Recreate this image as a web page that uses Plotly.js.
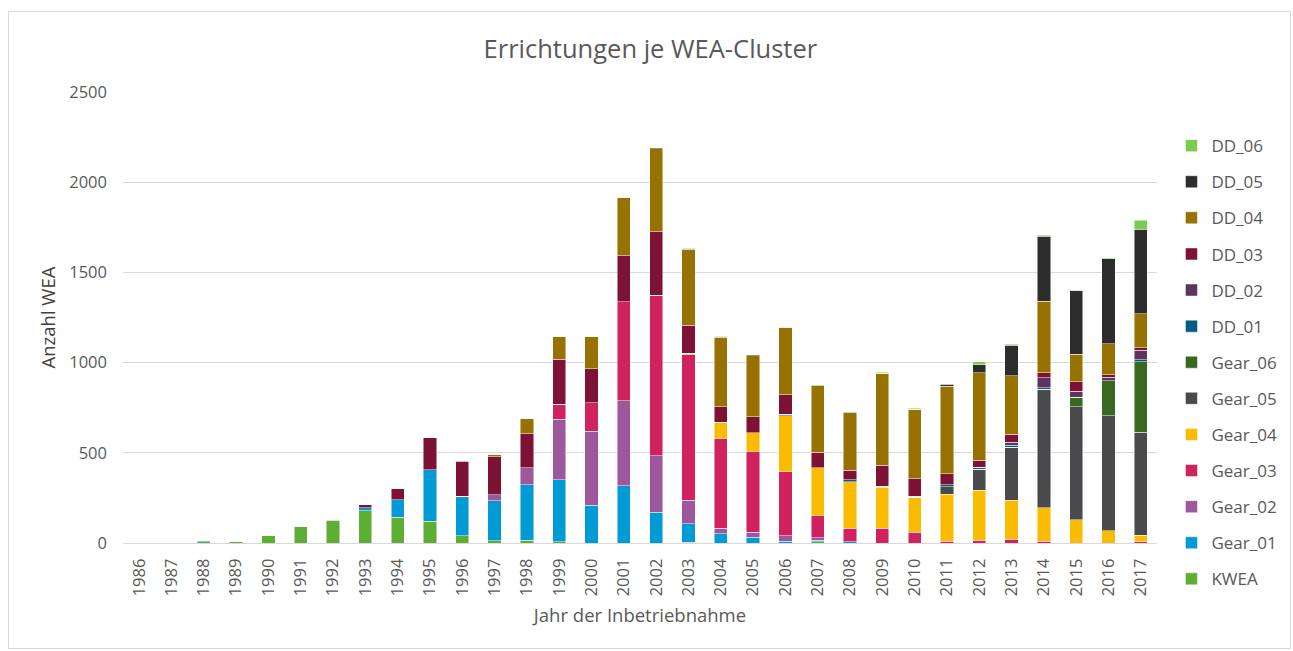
<!DOCTYPE html>
<html>
<head>
<meta charset="utf-8">
<script src="https://cdn.plot.ly/plotly-3.0.1.min.js"></script>
<style>
html,body{margin:0;padding:0;background:#fff;}
#wrap{position:relative;width:1293px;height:651px;}
#chart{width:1293px;height:651px;}
#frame{position:absolute;left:8px;top:11px;width:1281px;height:636px;border:1px solid #d9d9d9;pointer-events:none;}
</style>
</head>
<body>
<div id="wrap"><div id="chart"></div><div id="frame"></div></div>
<script>
const years = ['1986','1987','1988','1989','1990','1991','1992','1993','1994','1995','1996','1997','1998','1999','2000','2001','2002','2003','2004','2005','2006','2007','2008','2009','2010','2011','2012','2013','2014','2015','2016','2017'];

const KWEA    = [0,0,8,7,40,92,125,178,144,120,41,13,15,6,0,0,0,4,0,0,0,7,0,0,0,0,0,0,0,0,0,0];
const Gear_01 = [0,0,5,0,0,0,8,18,96,285,218,222,307,346,209,317,170,102,52,31,9,9,7,0,0,0,0,0,0,0,0,0];
const Gear_02 = [0,0,0,0,0,0,0,0,0,0,0,33,96,335,411,472,313,131,31,30,30,13,0,0,0,0,0,0,0,0,0,0];
const Gear_03 = [0,0,0,0,0,0,0,0,0,0,0,0,0,83,157,548,889,807,496,444,357,122,76,83,59,9,15,22,9,0,0,6];
const Gear_04 = [0,0,0,0,0,0,0,0,0,0,0,0,0,0,0,0,0,7,89,107,309,267,257,226,194,261,278,215,187,130,67,37];
const Gear_05 = [0,0,0,0,0,0,0,0,0,0,0,0,0,0,0,0,0,0,0,0,0,0,0,5,0,41,115,293,656,626,639,570];
const Gear_06 = [0,0,0,0,0,0,0,0,0,0,0,0,0,0,0,0,0,0,0,0,0,0,0,0,0,0,0,0,0,52,193,393];
const DD_01   = [0,0,0,0,0,0,0,0,0,0,0,0,0,0,0,0,0,0,0,0,9,0,11,0,7,13,11,13,9,0,0,9];
const DD_02   = [0,0,0,0,0,0,0,0,0,0,0,0,0,0,0,0,0,0,0,0,0,0,0,0,0,0,0,15,54,33,19,54];
const DD_03   = [0,0,0,0,0,0,0,15,63,178,193,211,187,248,189,256,352,157,87,87,109,85,52,117,96,61,41,46,28,52,15,13];
const DD_04   = [0,0,0,0,0,0,0,0,0,0,5,13,87,124,176,320,461,419,385,339,369,370,320,511,385,485,483,322,398,154,172,189];
const DD_05   = [0,0,0,0,0,0,0,0,0,0,0,0,0,0,0,0,7,6,5,5,5,0,0,0,0,9,46,170,359,354,472,467];
const DD_06   = [0,0,0,0,0,0,0,0,0,0,0,0,0,0,0,0,0,0,0,0,0,5,5,5,5,5,17,5,7,0,5,52];

const seriesNames  = ['KWEA','Gear_01','Gear_02','Gear_03','Gear_04','Gear_05','Gear_06','DD_01','DD_02','DD_03','DD_04','DD_05','DD_06'];
const seriesValues = [KWEA,Gear_01,Gear_02,Gear_03,Gear_04,Gear_05,Gear_06,DD_01,DD_02,DD_03,DD_04,DD_05,DD_06];
const seriesColors = ['#5EAE34','#009AD5','#9E579C','#D0225F','#FABB00','#4A4A4C','#38691F','#005C7E','#5E345E','#7D1235','#977200','#2D2D2D','#7BCB51'];

const font = '"Open Sans", "Noto Sans", sans-serif';
const traces = seriesNames.map((n,i)=>({
  type:'bar', name:n, x:years, y:seriesValues[i],
  marker:{color:seriesColors[i], line:{color:'rgba(255,255,255,0.6)', width:0.8}},
  legendgroup:n, legendrank:1000 - i*10, hoverinfo:'skip'
}));

const layout = {
  width:1293, height:651,
  paper_bgcolor:'#ffffff', plot_bgcolor:'#ffffff',
  margin:{l:123, r:135, t:92, b:108},
  barmode:'stack', bargap:0.59,
  title:{text:'Errichtungen je WEA-Cluster', x:0.503, xanchor:'center', y:0.925, yanchor:'middle',
         font:{family:font, size:25.5, color:'#595959'}},
  xaxis:{type:'category', tickangle:-90, tickfont:{family:font, size:16.5, color:'#595959'},
         showgrid:false, showline:true, linecolor:'#d9d9d9', linewidth:1, ticks:'',
         ticklabelstandoff:8,
         title:{text:'Jahr der Inbetriebnahme', font:{family:font, size:18.5, color:'#595959'}, standoff:13}},
  yaxis:{range:[0,2500], dtick:500, tickfont:{family:font, size:16.5, color:'#595959'},
         gridcolor:'#d9d9d9', gridwidth:1, zeroline:false, showline:false, ticks:'',
         ticklabelstandoff:15,
         title:{text:'Anzahl WEA', font:{family:font, size:18.5, color:'#404040'}, standoff:8}},
  legend:{x:1.013, xanchor:'left', y:0.920, yanchor:'top', traceorder:'grouped',
          font:{family:font, size:17, color:'#595959'}, tracegroupgap:11, bgcolor:'rgba(0,0,0,0)',
          itemwidth:30, maxheight:640},
  showlegend:true
};

Plotly.newPlot('chart', traces, layout, {displayModeBar:false, staticPlot:true});
</script>
</body>
</html>
